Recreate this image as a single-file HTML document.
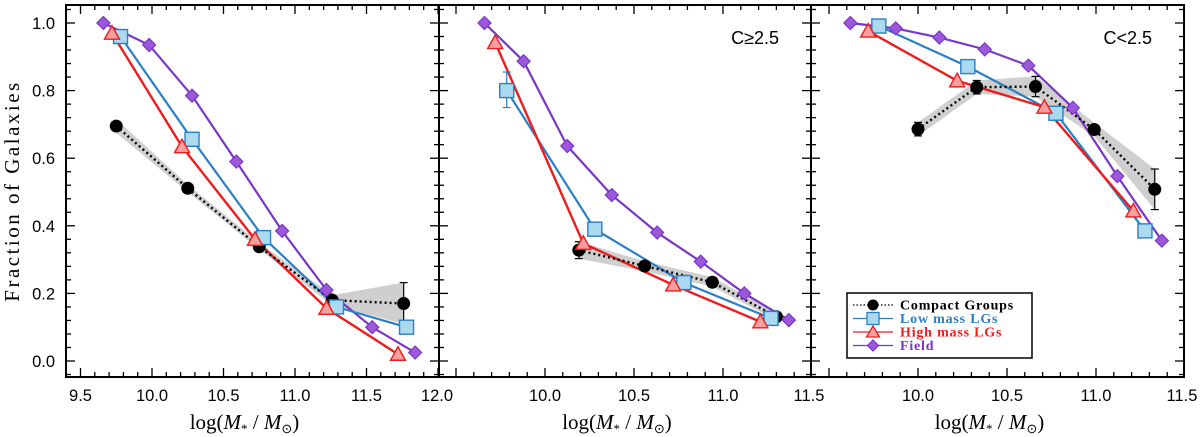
<!DOCTYPE html>
<html><head><meta charset="utf-8"><style>
html,body{margin:0;padding:0;background:#fff;}
svg{display:block;}
text{font-family:"Liberation Sans",sans-serif;}
</style></head><body>
<svg id="c" width="1200" height="437" viewBox="0 0 1200 437" xmlns="http://www.w3.org/2000/svg"></svg>
<script>
// ---------- data ----------
const p1FieldX=[9.66,9.98,10.28,10.59,10.91,11.22,11.54,11.84];
const p1FieldY=[1.0,0.935,0.785,0.59,0.385,0.21,0.10,0.025];
const p1LowX=[9.78,10.28,10.78,11.29,11.78];
const p1LowY=[0.96,0.656,0.365,0.16,0.10];
const p1HighX=[9.72,10.21,10.72,11.22,11.72];
const p1HighY=[0.97,0.634,0.36,0.156,0.02];
const p1CgX=[9.75,10.25,10.75,11.26,11.76];
const p1CgY=[0.695,0.511,0.338,0.18,0.17];
const p1CgLo=[0.675,0.50,0.33,0.165,0.11];
const p1CgHi=[0.715,0.522,0.35,0.195,0.232];

const p2FieldX=[9.66,9.88,10.125,10.375,10.63,10.875,11.12,11.37];
const p2FieldY=[1.0,0.887,0.636,0.491,0.38,0.294,0.20,0.121];
const p2LowX=[9.785,10.28,10.78,11.27];
const p2LowY=[0.80,0.39,0.232,0.126];
const p2HighX=[9.72,10.215,10.72,11.21];
const p2HighY=[0.942,0.348,0.225,0.116];
const p2CgX=[10.19,10.56,10.94,11.30];
const p2CgY=[0.328,0.281,0.233,0.131];
const p2CgLo=[0.303,0.265,0.22,0.12];
const p2CgHi=[0.353,0.295,0.248,0.142];

const p3FieldX=[9.62,9.875,10.12,10.375,10.62,10.87,11.12,11.37];
const p3FieldY=[1.0,0.984,0.957,0.922,0.874,0.749,0.547,0.356];
const p3LowX=[9.78,10.28,10.775,11.275];
const p3LowY=[0.991,0.871,0.733,0.385];
const p3HighX=[9.72,10.22,10.71,11.21];
const p3HighY=[0.976,0.829,0.751,0.444];
const p3CgX=[10.0,10.33,10.66,10.99,11.33];
const p3CgY=[0.686,0.81,0.812,0.685,0.508];
const p3CgLo=[0.666,0.79,0.782,0.665,0.448];
const p3CgHi=[0.706,0.83,0.842,0.705,0.568];

const p1XTicks=["9.5","10.0","10.5","11.0","11.5","12.0"];
const p2XTicks=["10.0","10.5","11.0","11.5"];
const p3XTicks=["10.0","10.5","11.0","11.5"];
const yTicks=["0.0","0.2","0.4","0.6","0.8","1.0"];
const panelLabels=["","C\u22652.5","C<2.5"];
const legendNames=["Compact Groups","Low mass LGs","High mass LGs","Field"];

// ---------- layout ----------
const NS="http://www.w3.org/2000/svg";
const svg=document.getElementById('c');
const TOP=5,BOT=377;
const Y0=361,YS=338;
function sy(v){return Y0-v*YS;}
const panels=[
 {x0:66,x1:439,ref:152,scale:143,xmin:9.4,xmax:12.0,ticks:p1XTicks,
  field:[p1FieldX,p1FieldY],low:[p1LowX,p1LowY],high:[p1HighX,p1HighY],cg:[p1CgX,p1CgY,p1CgLo,p1CgHi],cgErr:[4]},
 {x0:439,x1:811,ref:545,scale:178,xmin:9.4,xmax:11.5,ticks:p2XTicks,
  field:[p2FieldX,p2FieldY],low:[p2LowX,p2LowY],high:[p2HighX,p2HighY],cg:[p2CgX,p2CgY,p2CgLo,p2CgHi],cgErr:[0],lowErr:[0,0.75,0.855]},
 {x0:811,x1:1184,ref:918,scale:178,xmin:9.4,xmax:11.5,ticks:p3XTicks,
  field:[p3FieldX,p3FieldY],low:[p3LowX,p3LowY],high:[p3HighX,p3HighY],cg:[p3CgX,p3CgY,p3CgLo,p3CgHi],cgErr:[0,1,2,4]}
];
function el(tag,attrs,parent){const e=document.createElementNS(NS,tag);for(const k in attrs)e.setAttribute(k,attrs[k]);(parent||svg).appendChild(e);return e;}

const COL={field:'#7b35c9',fieldFill:'#9b59d9',low:'#2a7fc6',lowFill:'#aadaf0',high:'#ee1c1c',highFill:'#f8a0a0'};

function diamond(g,x,y){const d=6.5;return el('polygon',{points:`${x},${y-d} ${x+d},${y} ${x},${y+d} ${x-d},${y}`,fill:COL.fieldFill,stroke:COL.field,'stroke-width':1.2},g);}
function square(g,x,y){return el('rect',{x:x-7,y:y-7,width:14,height:14,fill:COL.lowFill,stroke:COL.low,'stroke-width':1.4},g);}
function tri(g,x,y){return el('polygon',{points:`${x},${y-7.5} ${x+7.5},${y+6} ${x-7.5},${y+6}`,fill:COL.highFill,stroke:COL.high,'stroke-width':1.4},g);}

panels.forEach((P,pi)=>{
  const sx=v=>P.ref+(v-10)*P.scale;
  const g=el('g',{});
  
  
  const clipId='clip'+pi;
  const cp=el('clipPath',{id:clipId},g);el('rect',{x:P.x0,y:TOP,width:P.x1-P.x0,height:BOT-TOP},cp);
  const plot=el('g',{'clip-path':`url(#${clipId})`},g);
  const [cx,cy,lo,hi]=P.cg;
  let pts=cx.map((v,i)=>sx(v)+','+sy(hi[i])).concat(cx.map((v,i)=>sx(v)+','+sy(lo[i])).reverse());
  const band=el('polygon',{points:pts.join(' '),fill:'#cfcfcf',stroke:'none'},plot);
  
  
  const lf=el('polyline',{points:P.field[0].map((v,i)=>sx(v)+','+sy(P.field[1][i])).join(' '),fill:'none',stroke:COL.field,'stroke-width':2.2},plot);
  
  const ll=el('polyline',{points:P.low[0].map((v,i)=>sx(v)+','+sy(P.low[1][i])).join(' '),fill:'none',stroke:COL.low,'stroke-width':2.2},plot);
  
  const lh=el('polyline',{points:P.high[0].map((v,i)=>sx(v)+','+sy(P.high[1][i])).join(' '),fill:'none',stroke:COL.high,'stroke-width':2.4},plot);
  
  const lc=el('polyline',{points:cx.map((v,i)=>sx(v)+','+sy(cy[i])).join(' '),fill:'none',stroke:'#000','stroke-width':2.4,'stroke-dasharray':'2 3'},plot);
  
  (P.cgErr||[]).forEach(i=>{
    const x=sx(cx[i]);
    el('line',{x1:x,x2:x,y1:sy(hi[i]),y2:sy(lo[i]),stroke:'#000','stroke-width':1.2},plot);
    el('line',{x1:x-4,x2:x+4,y1:sy(hi[i]),y2:sy(hi[i]),stroke:'#000','stroke-width':1.2},plot);
    el('line',{x1:x-4,x2:x+4,y1:sy(lo[i]),y2:sy(lo[i]),stroke:'#000','stroke-width':1.2},plot);
  });
  if(P.lowErr){const i=P.lowErr[0];const x=sx(P.low[0][i]);
    el('line',{x1:x,x2:x,y1:sy(P.lowErr[2]),y2:sy(P.lowErr[1]),stroke:COL.low,'stroke-width':1.2},plot);
    el('line',{x1:x-4,x2:x+4,y1:sy(P.lowErr[2]),y2:sy(P.lowErr[2]),stroke:COL.low,'stroke-width':1.2},plot);
    el('line',{x1:x-4,x2:x+4,y1:sy(P.lowErr[1]),y2:sy(P.lowErr[1]),stroke:COL.low,'stroke-width':1.2},plot);}
  cx.forEach((v,i)=>{const m=el('circle',{cx:sx(v),cy:sy(cy[i]),r:6.5,fill:'#000'},plot);
    });
  P.low[0].forEach((v,i)=>{const m=square(plot,sx(v),sy(P.low[1][i]));
    });
  P.high[0].forEach((v,i)=>{const m=tri(plot,sx(v),sy(P.high[1][i]));
    });
  P.field[0].forEach((v,i)=>{const m=diamond(plot,sx(v),sy(P.field[1][i]));
    });
  const fr=el('rect',{x:P.x0,y:TOP,width:P.x1-P.x0,height:BOT-TOP,fill:'none',stroke:'#000','stroke-width':2},g);
  
  for(let k=-1;k<=26;k++){const v=k*0.04;const y=sy(v);if(y<TOP+1||y>BOT-1)continue;
    const major=(k%5===0);const L=major?9:5;
    el('line',{x1:P.x0,x2:P.x0+L,y1:y,y2:y,stroke:'#000','stroke-width':1.3},g);
    el('line',{x1:P.x1,x2:P.x1-L,y1:y,y2:y,stroke:'#000','stroke-width':1.3},g);}
  for(let k=Math.ceil(P.xmin*10);k<=Math.floor(P.xmax*10);k++){const x=sx(k/10);
    if(x<P.x0+1||x>P.x1-1)continue;const major=(k%5===0);const L=major?9:5;
    el('line',{x1:x,x2:x,y1:BOT,y2:BOT-L,stroke:'#000','stroke-width':1.3},g);
    el('line',{x1:x,x2:x,y1:TOP,y2:TOP+L,stroke:'#000','stroke-width':1.3},g);}
  P.ticks.forEach(t=>{let x=sx(parseFloat(t));if(x>P.x1-4)x=P.x1-2;
    const tx=el('text',{x:x,y:401,'text-anchor':'middle','font-size':16.5,fill:'#000'},g);tx.textContent=t;
    });
  const xt=el('text',{x:(P.x0+P.x1)/2-8,y:429,'text-anchor':'middle','font-size':21,fill:'#000',style:'font-family:"Liberation Serif",serif'},g);
  xt.innerHTML='log(<tspan font-style="italic">M</tspan><tspan font-size="13" dy="4">*</tspan><tspan dy="-4"> / </tspan><tspan font-style="italic">M</tspan><tspan font-size="13" dy="4">⊙</tspan><tspan dy="-4">)</tspan>';
  
  if(panelLabels[pi]){const pl=el('text',{x:P.x1-32,y:44,'text-anchor':'end','font-size':18,fill:'#000'},g);pl.textContent=panelLabels[pi];
    }
});
yTicks.forEach(t=>{const tx=el('text',{x:55,y:sy(parseFloat(t))+6,'text-anchor':'end','font-size':16.5,fill:'#000'});tx.textContent=t;
  });
const yt=el('text',{x:0,y:0,transform:'translate(19,191) rotate(-90)','text-anchor':'middle','font-size':21,'letter-spacing':'2.5',fill:'#000',style:'font-family:"Liberation Serif",serif'});
yt.textContent='Fraction of Galaxies';


const lg=el('g',{});

el('rect',{x:847,y:293,width:185,height:65,fill:'#fff',stroke:'#000','stroke-width':1.5},lg);
const legCols=['#000',COL.low,COL.high,COL.field];
legendNames.forEach((n,i)=>{const y=305+i*13.5;
  const e=el('g',{},lg);
  
  el('line',{x1:853,x2:893,y1:y,y2:y,stroke:legCols[i],'stroke-width':1.3,'stroke-dasharray':i===0?'1.5 2':'none'},e);
  if(i===0)el('circle',{cx:873,cy:y,r:5.5,fill:'#000'},e);
  if(i===1)el('rect',{x:867,y:y-6,width:12,height:12,fill:COL.lowFill,stroke:COL.low,'stroke-width':1.3},e);
  if(i===2)el('polygon',{points:`873,${y-6} 879.5,${y+5} 866.5,${y+5}`,fill:COL.highFill,stroke:COL.high,'stroke-width':1.3},e);
  if(i===3)el('polygon',{points:`873,${y-5.5} 878.5,${y} 873,${y+5.5} 867.5,${y}`,fill:COL.fieldFill,stroke:COL.field,'stroke-width':1.2},e);
  const t=el('text',{x:900,y:y+4.5,'font-size':14,'font-weight':'bold','letter-spacing':'0.8',fill:legCols[i],style:'font-family:"Liberation Serif",serif'},e);t.textContent=n;
});
</script>
</body></html>
